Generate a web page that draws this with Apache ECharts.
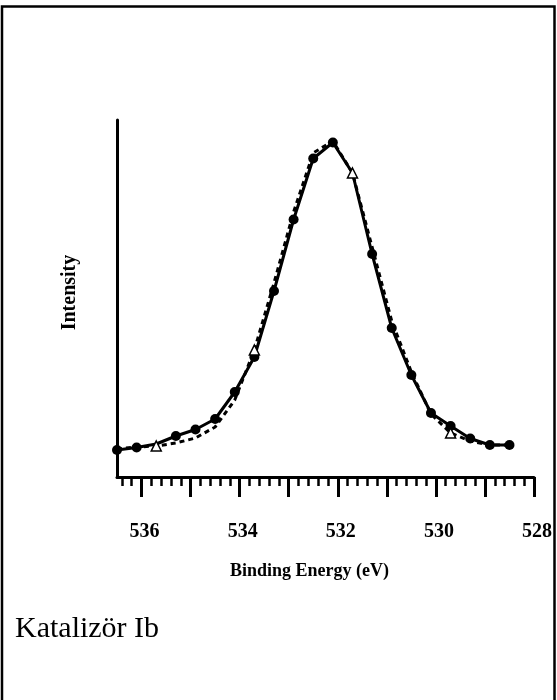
<!DOCTYPE html>
<html>
<head>
<meta charset="utf-8">
<script src="https://cdn.jsdelivr.net/npm/echarts@6/dist/echarts.min.js"></script>
<style>
html,body{margin:0;padding:0;background:#fff;}
#chart{width:557px;height:700px;}
</style>
</head>
<body>
<div id="chart"></div>
<script>
// Binding energy (eV) for the measured curve (solid, filled circles)
var energy1 = [536.5,536.1,535.7,535.3,534.9,534.5,534.1,533.7,533.3,532.9,532.5,532.1,531.7,531.3,530.9,530.5,530.1,529.7,529.3,528.9,528.5];
var intensity1 = [27,29.5,33,41,47.5,58,85,120,186,257.5,318.5,334.5,304,223,149,102,64,51,38.5,32,32];
// Circles hidden under the open triangles in the picture
var hiddenCircles = [535.7, 531.7];
// Fitted curve (dashed, open triangles)
var energy2 = [536.5,536.1,535.7,535.3,534.9,534.5,534.1,533.7,533.3,532.9,532.5,532.1,531.7,531.3,530.9,530.5,530.1,529.7,529.3,528.9,528.5];
var intensity2 = [28,30,31,34,39,50,77,127,194,265,324,336,304,230,156,105,63,44,36,32,32];
var triangleEnergies = [535.7, 533.7, 531.7, 529.7];
// Axis ticks
var majorTicks = [528,529,530,531,532,533,534,535,536];
var tickLabels = [528,530,532,534,536];
var minorTicks = [];
for (var t = 528; t < 536.45; t += 0.2) {
  var v = Math.round(t * 10) / 10;
  if (Math.abs(v - Math.round(v)) > 0.01) minorTicks.push(v);
}

var serif = '"Liberation Serif", "Times New Roman", serif';
var chart = echarts.init(document.getElementById('chart'), null, {renderer: 'canvas'});

var data1 = energy1.map(function (e, i) {
  var item = {value: [e, intensity1[i]]};
  if (hiddenCircles.indexOf(e) >= 0) item.symbol = 'none';
  return item;
});
var data2 = energy2.map(function (e, i) {
  var item = {value: [e, intensity2[i]]};
  if (triangleEnergies.indexOf(e) < 0) item.symbol = 'none';
  return item;
});

chart.setOption({
  animation: false,
  backgroundColor: '#ffffff',
  grid: {left: 117, right: 23, top: 120, bottom: 223, containLabel: false},
  xAxis: [{
    type: 'value', inverse: true, min: 528, max: 536.5, position: 'bottom',
    name: 'Binding Energy (eV)', nameLocation: 'middle', nameGap: 85,
    nameTextStyle: {fontFamily: serif, fontWeight: 'bold', fontSize: 18, color: '#000', padding: [0, 32, 0, 0]},
    axisLine: {show: true, lineStyle: {color: '#000', width: 3}},
    axisTick: {show: true, customValues: majorTicks, length: 20, lineStyle: {color: '#000', width: 3}},
    axisLabel: {show: true, customValues: tickLabels, margin: 45, fontFamily: serif, fontWeight: 'bold', fontSize: 20, color: '#000', padding: [0, 0, 0, 6]},
    splitLine: {show: false}
  }, {
    type: 'value', inverse: true, min: 528, max: 536.5, position: 'bottom',
    axisLine: {show: false},
    axisTick: {show: true, customValues: minorTicks, length: 9, lineStyle: {color: '#000', width: 2.5}},
    axisLabel: {show: false},
    splitLine: {show: false}
  }],
  yAxis: {
    type: 'value', min: 0, max: 357,
    name: 'Intensity', nameLocation: 'middle', nameGap: 37,
    nameTextStyle: {fontFamily: serif, fontWeight: 'bold', fontSize: 20, color: '#000', padding: [0, 0, 0, 12]},
    axisLine: {show: true, lineStyle: {color: '#000', width: 3}},
    axisTick: {show: false},
    axisLabel: {show: false},
    splitLine: {show: false}
  },
  series: [{
    type: 'line', name: 'Measured', xAxisIndex: 0, data: data1,
    symbol: 'circle', symbolSize: 10,
    lineStyle: {color: '#000', width: 3},
    itemStyle: {color: '#000', borderColor: '#000', borderWidth: 0},
    z: 3
  }, {
    type: 'line', name: 'Fit', xAxisIndex: 0, data: data2,
    symbol: 'triangle', symbolSize: 10,
    lineStyle: {color: '#000', width: 3, type: [5, 4]},
    itemStyle: {color: '#fff', borderColor: '#000', borderWidth: 1.5},
    z: 4
  }],
  graphic: [{
    type: 'rect', shape: {x: 2, y: 6.5, width: 552.5, height: 720},
    style: {fill: 'none', stroke: '#000', lineWidth: 2.5}, silent: true
  }, {
    type: 'text', left: 15, top: 614,
    style: {text: 'Katalizör Ib', font: 'normal 30px ' + serif, fill: '#000'}
  }]
});
</script>
</body>
</html>
